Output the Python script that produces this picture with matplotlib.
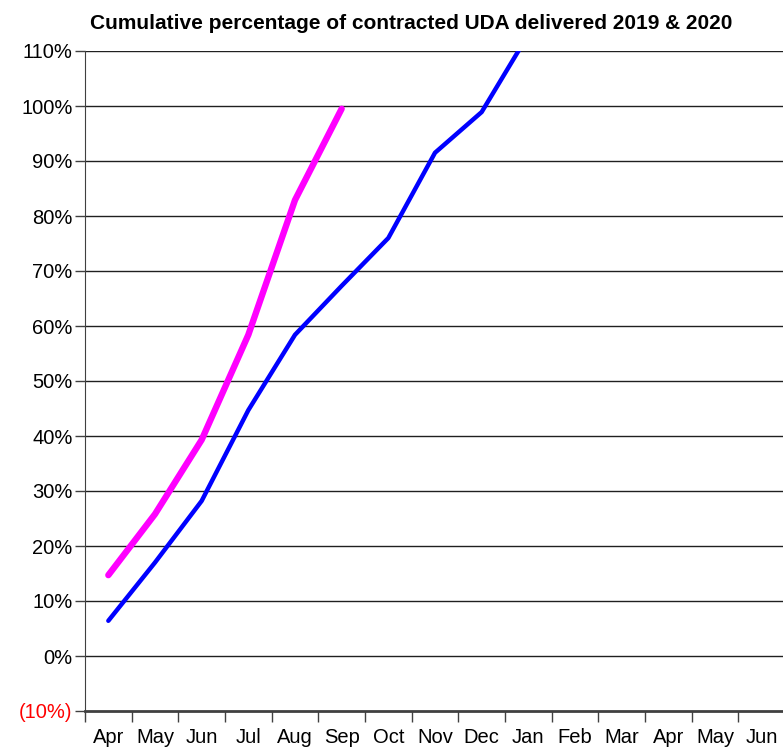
import matplotlib.pyplot as plt
from matplotlib.ticker import FuncFormatter, MultipleLocator

plt.rcParams['font.family'] = ['Liberation Sans', 'DejaVu Sans']

months = ["Apr", "May", "Jun", "Jul", "Aug", "Sep", "Oct", "Nov",
          "Dec", "Jan", "Feb", "Mar", "Apr", "May", "Jun"]

# cumulative % delivered
pct_2019 = [6.4, 17.0, 28.2, 44.7, 58.4, 67.3, 76.0, 91.5, 98.9, 113.0]
pct_2020 = [14.7, 25.8, 39.3, 58.4, 82.9, 99.5]


def pct_fmt(v, pos):
    v = int(round(v))
    if v < 0:
        return "(%d%%)" % abs(v)
    return "%d%%" % v


fig = plt.figure(figsize=(7.83, 7.47), dpi=100)
ax = fig.add_axes([85 / 783, 36 / 747, 700 / 783, 660 / 747])

x19 = list(range(len(pct_2019)))
x20 = list(range(len(pct_2020)))

ax.plot(x19, pct_2019, color="#0000ff", linewidth=3.2,
        solid_capstyle="round", solid_joinstyle="round", zorder=3)
ax.plot(x20, pct_2020, color="#ff00ff", linewidth=4.6,
        solid_capstyle="round", solid_joinstyle="round", zorder=4)

ax.set_xlim(-0.5, len(months) - 0.5)
ax.set_ylim(-10, 110)
ax.yaxis.set_major_locator(MultipleLocator(10))
ax.yaxis.set_major_formatter(FuncFormatter(pct_fmt))

ax.set_xticks(range(len(months)))
ax.set_xticklabels(months)
ax.set_xticks([i - 0.5 for i in range(len(months))], minor=True)
ax.tick_params(axis="x", which="major", length=0, pad=12, labelsize=14.5)
ax.tick_params(axis="x", which="minor", length=8, width=1, color="#404040")
ax.tick_params(axis="y", length=7, width=1, color="#404040", labelsize=14.5, pad=2)

for lbl in ax.get_yticklabels():
    if lbl.get_text().startswith("("):
        lbl.set_color("red")

for v in range(0, 111, 10):
    ax.axhline(v, color="#202020", linewidth=1, zorder=1)

for side in ["top", "right"]:
    ax.spines[side].set_visible(False)
ax.spines["left"].set_color("#404040")
ax.spines["bottom"].set_color("#404040")
ax.spines["bottom"].set_linewidth(2)

fig.text(0.525, 0.968, "Cumulative percentage of contracted UDA delivered 2019 & 2020",
         ha="center", va="center", fontsize=15, fontweight="bold")

fig.savefig("out.png", dpi=100)
